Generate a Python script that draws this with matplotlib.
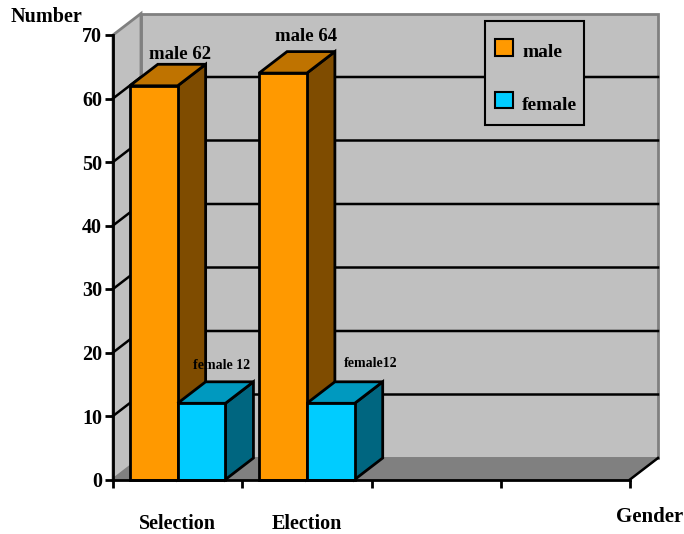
import matplotlib
matplotlib.use('Agg')
import matplotlib.pyplot as plt
from matplotlib.patches import Polygon, Patch, Rectangle

plt.rcParams['font.family'] = ['Liberation Serif', 'DejaVu Serif']
plt.rcParams['font.weight'] = 'bold'

# Data
categories = ['Selection', 'Election']
male = [62, 64]
female = [12, 12]
male_labels = ['male 62', 'male 64']
female_labels = ['female 12', 'female12']
y_ticks = [0, 10, 20, 30, 40, 50, 60, 70]

# Colours: front, top, side
male_cols = ('#ff9900', '#bf7300', '#7f4c00')
female_cols = ('#00ccff', '#0099bf', '#006680')
wall = '#c0c0c0'
floor = '#808080'

W, H = 684, 534
fig = plt.figure(figsize=(W / 100, H / 100), dpi=100)
ax = fig.add_axes([113 / W, 1 - 479.5 / H, 517 / W, 444.5 / H])
ax.set_xlim(0, 4)
ax.set_ylim(0, 70)

# depth of the fake 3d box in data units
dx = 28 / (517 / 4)
dy = 21.5 / (444.5 / 70)


def poly(pts, fc, ec='black', lw=2, z=2):
    ax.add_patch(Polygon(pts, closed=True, facecolor=fc, edgecolor=ec, linewidth=lw,
                         joinstyle='miter', clip_on=False, zorder=z))


def bar3d(x0, x1, h, cols, z):
    poly([(x1, 0), (x1 + dx, dy), (x1 + dx, h + dy), (x1, h)], cols[2], z=z)
    poly([(x0, h), (x0 + dx, h + dy), (x1 + dx, h + dy), (x1, h)], cols[1], z=z)
    poly([(x0, 0), (x1, 0), (x1, h), (x0, h)], cols[0], z=z)


# walls and floor
poly([(dx, dy), (4 + dx, dy), (4 + dx, 70 + dy), (dx, 70 + dy)], wall, ec=floor, lw=2, z=1)
poly([(0, 0), (dx, dy), (dx, 70 + dy), (0, 70)], wall, ec=floor, lw=2, z=1)
poly([(0, 0), (4, 0), (4 + dx, dy), (dx, dy)], floor, ec=floor, lw=1, z=1)

# gridlines on the back and side wall
for v in y_ticks[1:-1]:
    ax.plot([0, dx, 4 + dx], [v, v + dy, v + dy], color='black', lw=1.8, clip_on=False, zorder=1.5)
ax.plot([4, 4 + dx], [0, dy], color='black', lw=1.8, clip_on=False, zorder=1.5)

# bars, drawn left to right so later ones sit in front
bar_w = 0.37
centers = [0.5, 1.5]
for i, c in enumerate(centers):
    bar3d(c - bar_w, c, male[i], male_cols, 3 + i)
    bar3d(c, c + bar_w, female[i], female_cols, 3.5 + i)

# bar labels
ax.text(0.52, 66.9, male_labels[0], ha='center', va='center', fontsize=13.5, zorder=6)
ax.text(1.49, 69.7, male_labels[1], ha='center', va='center', fontsize=13.5, zorder=6)
ax.text(0.84, 17.9, female_labels[0], ha='center', va='center', fontsize=10, zorder=6)
ax.text(1.99, 18.2, female_labels[1], ha='center', va='center', fontsize=10, zorder=6)

# axes and ticks
for s in ['top', 'right']:
    ax.spines[s].set_visible(False)
for s in ['left', 'bottom']:
    ax.spines[s].set_linewidth(2)
    ax.spines[s].set_zorder(7)
ax.patch.set_visible(False)
ax.set_yticks(y_ticks)
ax.set_xticks([0, 1, 2, 3, 4])
ax.set_xticklabels([])
ax.set_xticks(centers, minor=True)
ax.set_xticklabels(categories, minor=True, fontsize=14.5)
ax.tick_params(axis='x', which='minor', length=0, pad=24.5)
ax.tick_params(axis='x', which='major', length=6, width=2)
ax.tick_params(axis='y', length=6, width=2, labelsize=14.5, pad=2)

fig.text(11 / W, 1 - 16.5 / H, 'Number', ha='left', va='center', fontsize=14.5)
fig.text(683 / W, 1 - 516.5 / H, 'Gender', ha='right', va='center', fontsize=15)

# legend: frame drawn separately so its padding can differ per side
ax.add_patch(Rectangle((485 / W, 1 - 125 / H), 99 / W, 104 / H, transform=fig.transFigure,
                       facecolor=wall, edgecolor='black', linewidth=1.5, clip_on=False, zorder=8))
handles = [Patch(facecolor=male_cols[0], edgecolor='black', linewidth=1.5, label='male'),
           Patch(facecolor=female_cols[0], edgecolor='black', linewidth=1.5, label='female')]
leg = ax.legend(handles=handles, loc='upper left', bbox_to_anchor=(495 / W, 1 - 39 / H),
                bbox_transform=fig.transFigure, fontsize=14, frameon=False, handlelength=0.93,
                handleheight=0.93, labelspacing=1.75, borderpad=0, handletextpad=0.46,
                borderaxespad=0)
leg.set_zorder(9)
# labels sit a little lower than their swatches in the original
for t in leg.get_texts():
    t.set_y(-3)

fig.savefig('out.png', dpi=100)
